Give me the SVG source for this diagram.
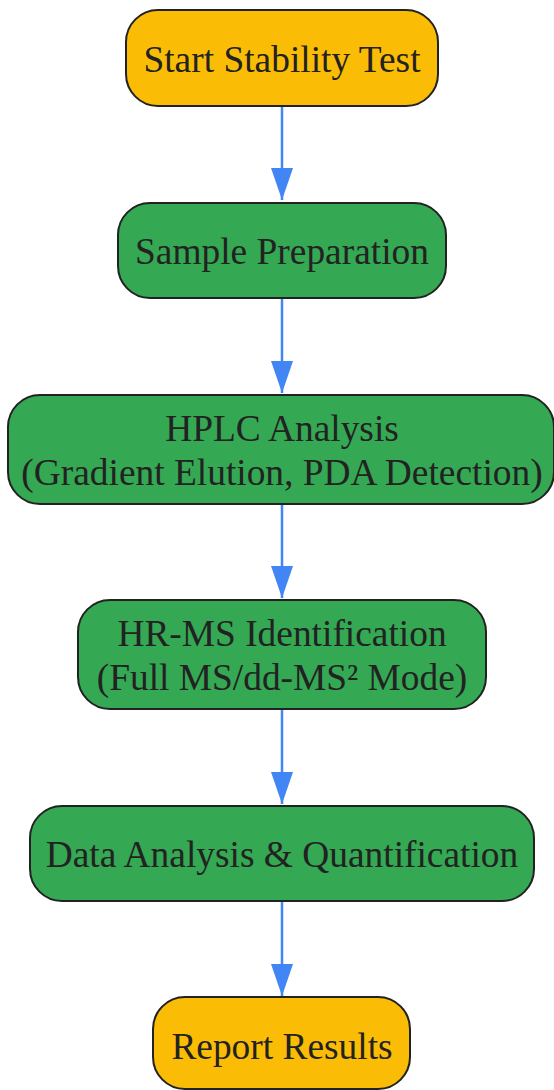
<svg xmlns="http://www.w3.org/2000/svg" width="554" height="1090" viewBox="0 0 554 1090">
<style>
.n rect{stroke:#222;stroke-width:2}
.y rect{fill:#FBBC05}
.g rect{fill:#34A853}
text{font-family:"Liberation Serif","Times New Roman",serif;font-size:37.4px;fill:#222;text-anchor:middle}
.e line{stroke:#4285F4;stroke-width:2.5}
</style>
<defs>
<marker id="a" markerWidth="32" markerHeight="22" refX="32" refY="11" orient="auto" markerUnits="userSpaceOnUse" viewBox="0 0 32 22">
<path d="M0,0 L32,11 L0,22 Z" fill="#4285F4"/>
</marker>
</defs>
<g class="e" id="edges">
<line x1="282" y1="107" x2="282" y2="200" marker-end="url(#a)"/>
<line x1="282" y1="299" x2="282" y2="393" marker-end="url(#a)"/>
<line x1="282" y1="505" x2="282" y2="598" marker-end="url(#a)"/>
<line x1="282" y1="710" x2="282" y2="804" marker-end="url(#a)"/>
<line x1="282" y1="902" x2="282" y2="996" marker-end="url(#a)"/>
</g>
<g id="n1" class="n y"><rect x="126" y="10" width="312" height="96" rx="32"/><text x="282" y="72">Start Stability Test</text></g>
<g id="n2" class="n g"><rect x="118" y="203" width="328" height="95" rx="32"/><text x="282" y="264">Sample Preparation</text></g>
<g id="n3" class="n g"><rect x="8" y="395" width="546" height="109" rx="32"/><text x="282" y="441">HPLC Analysis</text><text x="282" y="485">(Gradient Elution, PDA Detection)</text></g>
<g id="n4" class="n g"><rect x="78" y="600" width="408" height="109" rx="32"/><text x="282" y="646">HR-MS Identification</text><text x="282" y="690">(Full MS/dd-MS² Mode)</text></g>
<g id="n5" class="n g"><rect x="30" y="806" width="504" height="95" rx="32"/><text x="282" y="867">Data Analysis &amp; Quantification</text></g>
<g id="n6" class="n y"><rect x="153" y="997" width="257" height="92" rx="32"/><text x="282" y="1059">Report Results</text></g>
</svg>
